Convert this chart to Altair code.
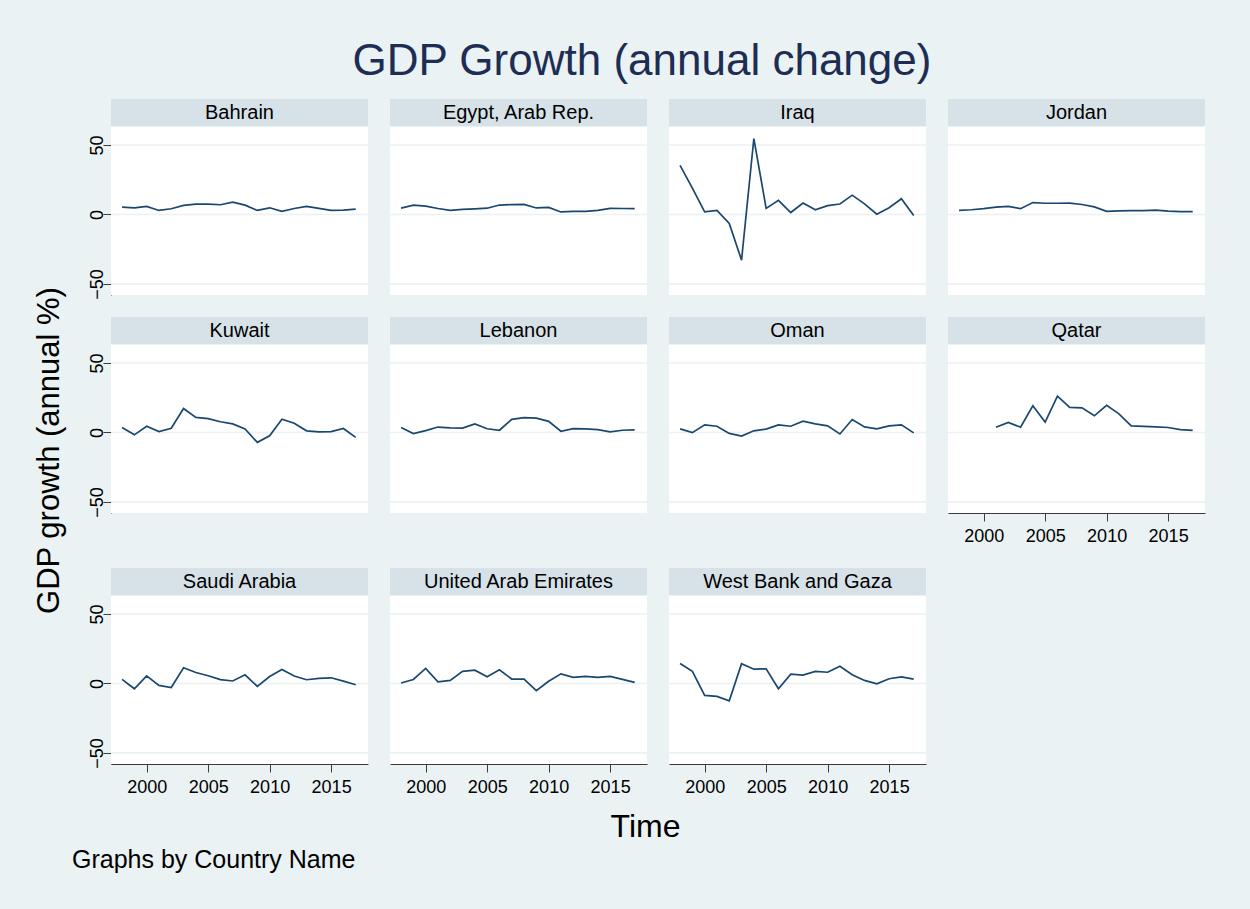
import altair as alt
import pandas as pd

# ---------------- data ----------------
years = list(range(1998, 2018))

countries = ["Bahrain", "Egypt, Arab Rep.", "Iraq", "Jordan",
             "Kuwait", "Lebanon", "Oman", "Qatar",
             "Saudi Arabia", "United Arab Emirates", "West Bank and Gaza"]

bahrain = [5.3, 4.8, 5.8, 2.9, 4.1, 6.5, 7.4, 7.4, 7.0, 8.9,
           6.7, 2.9, 4.8, 2.2, 4.3, 5.8, 4.4, 2.9, 3.2, 3.8]
egypt = [4.6, 6.7, 6.0, 4.3, 2.9, 3.6, 4.1, 4.5, 6.8, 7.1,
         7.2, 4.7, 5.1, 1.8, 2.2, 2.2, 2.9, 4.4, 4.3, 4.2]
iraq = [35.3, 19.0, 1.9, 2.9, -6.5, -32.9, 54.7, 4.4, 10.2, 1.4,
        8.2, 3.4, 6.4, 7.5, 13.9, 7.6, 0.2, 4.8, 11.3, -0.7]
jordan = [3.0, 3.4, 4.2, 5.3, 5.8, 4.2, 8.6, 8.1, 8.1, 8.2,
          7.2, 5.5, 2.3, 2.6, 2.7, 2.8, 3.1, 2.4, 2.0, 2.1]
kuwait = [3.6, -1.7, 4.5, 0.7, 3.0, 17.3, 10.9, 10.0, 7.7, 6.2,
          2.5, -7.1, -2.4, 9.6, 6.6, 1.2, 0.5, 0.6, 2.9, -3.5]
lebanon = [3.6, -0.8, 1.3, 3.9, 3.3, 3.2, 6.2, 2.7, 1.6, 9.4,
           10.7, 10.3, 8.0, 0.9, 2.8, 2.6, 2.0, 0.4, 1.6, 1.9]
oman = [2.6, -0.1, 5.5, 4.5, -0.7, -2.6, 1.2, 2.4, 5.5, 4.5,
        8.1, 6.2, 4.8, -1.1, 9.3, 4.0, 2.6, 4.8, 5.5, -0.3]
qatar = [None, None, None, 3.8, 7.2, 3.8, 19.2, 7.5, 26.2, 18.1,
         17.7, 12.0, 19.6, 13.4, 4.7, 4.4, 4.0, 3.6, 2.1, 1.5]
saudi = [2.9, -3.8, 5.5, -1.4, -2.9, 11.3, 7.9, 5.6, 2.8, 1.8,
         6.2, -2.1, 5.0, 10.0, 5.4, 2.7, 3.7, 4.1, 1.7, -0.9]
uae = [0.3, 2.9, 10.8, 1.2, 2.2, 8.7, 9.6, 4.8, 9.9, 3.2,
       3.2, -5.2, 1.6, 6.9, 4.4, 5.1, 4.4, 5.1, 3.0, 0.8]
wbg = [14.4, 8.7, -8.6, -9.3, -12.5, 14.2, 10.3, 10.6, -3.8, 6.7,
       6.0, 8.7, 8.1, 12.4, 6.3, 2.2, -0.2, 3.4, 4.7, 3.1]

series = [bahrain, egypt, iraq, jordan, kuwait, lebanon, oman, qatar,
          saudi, uae, wbg]

y_ticks = [-50, 0, 50]
x_ticks = [2000, 2005, 2010, 2015]

title_text = "GDP Growth (annual change)"
x_title = "Time"
y_title = "GDP growth (annual %)"
note_text = "Graphs by Country Name"

# ---------------- styling ----------------
FONT = "Liberation Sans"
BG = "#EAF2F3"
STRIP = "#D6E2E8"
GRID = "#EAF2F3"
LINE = "#1A476F"
AXIS = "#3C3C3C"
TITLE_COLOR = "#1E2D53"

W, H = 257, 168
EXTRA = 33  # extra room above the bottom-row panels (Qatar's axis)

rows = []
for name, vals in zip(countries, series):
    for yr, v in zip(years, vals):
        rows.append({"country": name, "year": yr, "growth": v})
df = pd.DataFrame(rows)
grid_df = pd.DataFrame({"growth": y_ticks})


def panel(name, show_y, show_x, top=0, y_title_on=False, x_title_on=False,
          note=False):
    sub = df[df.country == name]
    total_h = H + top
    x_scale = alt.Scale(domain=[1997.1, 2018.0], nice=False, zero=False)
    y_scale = alt.Scale(domain=[-58, 63], nice=False, zero=False,
                        range=[total_h, top])

    if show_x:
        xkw = dict(values=x_ticks, format="d", grid=False, tickSize=8,
                   tickColor=AXIS, domainColor=AXIS, labelFont=FONT,
                   labelFontSize=18, labelColor="black", labelPadding=6,
                   labelFlush=False)
        if x_title_on:
            xkw.update(title=x_title, titleFont=FONT, titleFontSize=32,
                       titleFontWeight="normal", titleColor="black",
                       titleX=534, titleY=72, titleBaseline="alphabetic",
                       titleAlign="center")
        else:
            xkw.update(title=None)
        x_axis = alt.Axis(**xkw)
    else:
        x_axis = None

    if show_y:
        ykw = dict(values=y_ticks, grid=False,
                   tickSize=8, tickColor=AXIS, domainColor=AXIS,
                   labelFont=FONT, labelFontSize=18, labelColor="black",
                   labelAngle=270, labelAlign="center", labelBaseline="bottom",
                   labelPadding=-3, labelFlush=False)
        if y_title_on:
            ykw.update(title=y_title, titleFont=FONT, titleFontSize=31,
                       titleFontWeight="normal", titleColor="black",
                       titleX=-53, titleY=105, titleBaseline="alphabetic",
                       titleAlign="center", titleAngle=270)
        else:
            ykw.update(title=None)
        y_axis = alt.Axis(**ykw)
    else:
        y_axis = None

    label_df = pd.DataFrame({"country": [name]})

    white = alt.Chart(label_df).mark_rect(color="white").encode(
        x=alt.value(0), x2=alt.value(W), y=alt.value(top), y2=alt.value(total_h)
    )
    grid = alt.Chart(grid_df).mark_rule(color=GRID, strokeWidth=1.6).encode(
        y=alt.Y("growth:Q", scale=y_scale, axis=y_axis)
    )
    line = alt.Chart(sub).mark_line(color=LINE, strokeWidth=1.7).encode(
        x=alt.X("year:Q", scale=x_scale, axis=x_axis),
        y=alt.Y("growth:Q", scale=y_scale, axis=y_axis),
    )
    strip = alt.Chart(label_df).mark_rect(color=STRIP).encode(
        x=alt.value(0), x2=alt.value(W), y=alt.value(top - 28),
        y2=alt.value(top - 1)
    )
    label = alt.Chart(label_df).mark_text(
        font=FONT, fontSize=20, color="black", baseline="middle", align="center"
    ).encode(text="country:N", x=alt.value(W / 2), y=alt.value(top - 14))

    layers = [white, grid, line, strip, label]
    if note:
        note_df = pd.DataFrame({"note": [note_text]})
        layers.append(
            alt.Chart(note_df).mark_text(
                font=FONT, fontSize=25, color="black", align="left",
                baseline="alphabetic"
            ).encode(text="note:N", x=alt.value(-39), y=alt.value(total_h + 104))
        )
    return alt.layer(*layers).properties(width=W, height=total_h)


panels = [
    panel("Bahrain", True, False),
    panel("Egypt, Arab Rep.", False, False),
    panel("Iraq", False, False),
    panel("Jordan", False, False),
    panel("Kuwait", True, False, y_title_on=True),
    panel("Lebanon", False, False),
    panel("Oman", False, False),
    panel("Qatar", False, True),
    panel("Saudi Arabia", True, True, top=EXTRA, x_title_on=True, note=True),
    panel("United Arab Emirates", False, True, top=EXTRA),
    panel("West Bank and Gaza", False, True, top=EXTRA),
]

chart = alt.concat(
    *panels, columns=4, spacing={"row": 50, "column": 22}, bounds="flush"
).properties(
    title=alt.TitleParams(title_text, font=FONT, fontSize=44,
                          fontWeight="normal", color=TITLE_COLOR,
                          anchor="start", align="center", frame="group",
                          dx=531, dy=43, baseline="alphabetic", offset=23),
    background=BG,
    autosize=alt.AutoSizeParams(type="none"),
    padding={"left": 111, "top": 127, "right": 1139, "bottom": 782},
).configure_view(stroke=None)

chart.save("out.html", embed_options={"renderer": "svg", "actions": False})
